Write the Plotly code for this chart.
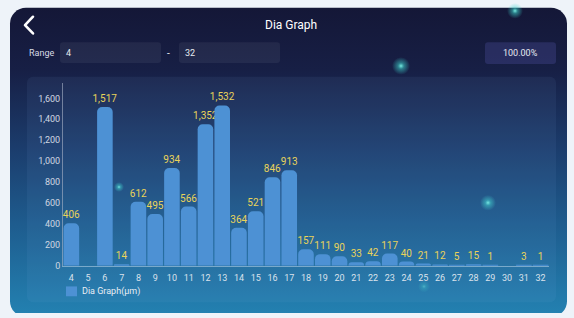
import base64
import plotly.graph_objects as go

# ---- data ----
categories = [str(c) for c in range(4, 33)]
values = [406, 0, 1517, 14, 612, 495, 934, 566, 1352, 1532, 364, 521, 846, 913,
          157, 111, 90, 33, 42, 117, 40, 21, 12, 5, 15, 1, 0, 3, 1]
series_name = "Dia Graph(μm)"
title_text = "Dia Graph"
range_label = "Range"
range_from = "4"
range_to = "32"
percent_text = "100.00%"
y_ticks = [0, 200, 400, 600, 800, 1000, 1200, 1400, 1600]

W, H = 574, 318


def px(x):
    return x / W


def py(y):
    return 1 - y / H


bar_text = [f"{v:,}" if v else "" for v in values]

# ---- decorative background (panel gradient, boxes, glows) ----
svg = f"""<svg xmlns='http://www.w3.org/2000/svg' width='{W}' height='{H}' viewBox='0 0 {W} {H}'>
<defs>
<linearGradient id='g' x1='0' y1='0' x2='0' y2='1'>
<stop offset='0' stop-color='#141737'/>
<stop offset='0.2' stop-color='#171f45'/>
<stop offset='0.45' stop-color='#1b3c6c'/>
<stop offset='0.7' stop-color='#1e5c8e'/>
<stop offset='1' stop-color='#2382b2'/>
</linearGradient>
<radialGradient id='s'>
<stop offset='0' stop-color='#7ff5e8' stop-opacity='0.95'/>
<stop offset='0.35' stop-color='#3fd6cf' stop-opacity='0.5'/>
<stop offset='1' stop-color='#3fd6cf' stop-opacity='0'/>
</radialGradient>
</defs>
<rect x='0' y='0' width='{W}' height='{H}' fill='#eef3f9'/>
<rect x='10' y='8' width='557' height='314' rx='16' fill='url(#g)'/>
<circle cx='401' cy='67' r='9' fill='url(#s)'/>
<circle cx='515' cy='11' r='8' fill='url(#s)'/>
<circle cx='488' cy='206' r='8' fill='url(#s)'/>
<circle cx='119' cy='190' r='5' fill='url(#s)'/>
<circle cx='424' cy='291' r='6' fill='url(#s)' opacity='0.5'/>
<rect x='60' y='43' width='101' height='21' rx='3' fill='#ffffff' fill-opacity='0.06'/>
<rect x='179' y='43' width='101' height='21' rx='3' fill='#ffffff' fill-opacity='0.06'/>
<rect x='485' y='43' width='71' height='22' rx='3' fill='#5a5ab0' fill-opacity='0.28'/>
<rect x='27' y='78' width='529' height='229' rx='6' fill='#8ab8f0' fill-opacity='0.07'/>
<path d='M33 17 L25 25.5 L33 34' stroke='#ffffff' stroke-width='2.6' fill='none' stroke-linecap='round' stroke-linejoin='round'/>
</svg>"""
bg_uri = "data:image/svg+xml;base64," + base64.b64encode(svg.encode("utf-8")).decode("ascii")

bar_color = "rgb(77,145,212)"

fig = go.Figure()
fig.add_trace(go.Bar(
    x=categories,
    y=values,
    name=series_name,
    text=bar_text,
    textposition="outside",
    constraintext="none",
    textfont=dict(family="Roboto", size=10, color="#e9d35a"),
    cliponaxis=False,
    marker=dict(color=bar_color, cornerradius=5, line=dict(width=0)),
    showlegend=False,
    hoverinfo="x+y",
))

fig.update_layout(
    width=W,
    height=H,
    margin=dict(l=0, r=0, t=0, b=0),
    paper_bgcolor="#eef3f9",
    plot_bgcolor="rgba(0,0,0,0)",
    font=dict(family="Roboto", color="#d5dbe6"),
    bargap=0.07,
    xaxis=dict(
        domain=[px(63), px(549)],
        type="category",
        range=[-0.5, len(categories) - 0.5],
        showgrid=False,
        zeroline=False,
        showline=True,
        linecolor="rgba(190,215,235,0.55)",
        linewidth=1,
        ticks="",
        ticklabelstandoff=3,
        tickfont=dict(family="Roboto", size=9, color="#dbe2ec"),
        fixedrange=True,
    ),
    yaxis=dict(
        domain=[py(270), py(84)],
        range=[0, 1750],
        tickvals=y_ticks,
        tickformat=",d",
        showgrid=False,
        zeroline=False,
        showline=True,
        linecolor="rgba(170,180,200,0.6)",
        linewidth=1,
        ticks="",
        tickfont=dict(family="Roboto", size=9, color="#d0d7e2"),
        fixedrange=True,
    ),
    images=[dict(
        source=bg_uri, xref="paper", yref="paper", x=0, y=1,
        sizex=1, sizey=1, xanchor="left", yanchor="top",
        sizing="stretch", layer="below",
    )],
    shapes=[dict(
        type="rect", xref="paper", yref="paper",
        x0=px(66), x1=px(77), y0=py(301), y1=py(291),
        fillcolor=bar_color, line=dict(width=0),
    )],
)

annotations = [
    dict(text=title_text, x=px(291), y=py(25), font=dict(size=12, color="#ffffff", family="Roboto"),
         xanchor="center", yanchor="middle"),
    dict(text=range_label, x=px(27), y=py(54), font=dict(size=9, color="#d6dbe4", family="Roboto"),
         xanchor="left", yanchor="middle"),
    dict(text=range_from, x=px(64), y=py(54), font=dict(size=9, color="#e6eaf0", family="Roboto"),
         xanchor="left", yanchor="middle"),
    dict(text="-", x=px(168), y=py(54), font=dict(size=10, color="#e6eaf0", family="Roboto"),
         xanchor="center", yanchor="middle"),
    dict(text=range_to, x=px(183), y=py(54), font=dict(size=9, color="#e6eaf0", family="Roboto"),
         xanchor="left", yanchor="middle"),
    dict(text=percent_text, x=px(520), y=py(54), font=dict(size=9, color="#e6eaf0", family="Roboto"),
         xanchor="center", yanchor="middle"),
    dict(text=series_name, x=px(80), y=py(296), font=dict(size=9, color="#e8edf4", family="Roboto"),
         xanchor="left", yanchor="middle"),
]
for a in annotations:
    a.update(xref="paper", yref="paper", showarrow=False)
fig.update_layout(annotations=annotations)

fig.write_html(
    "out.html",
    config={"displayModeBar": False},
    post_script="document.body.style.margin='0';document.body.style.overflow='hidden';",
)
